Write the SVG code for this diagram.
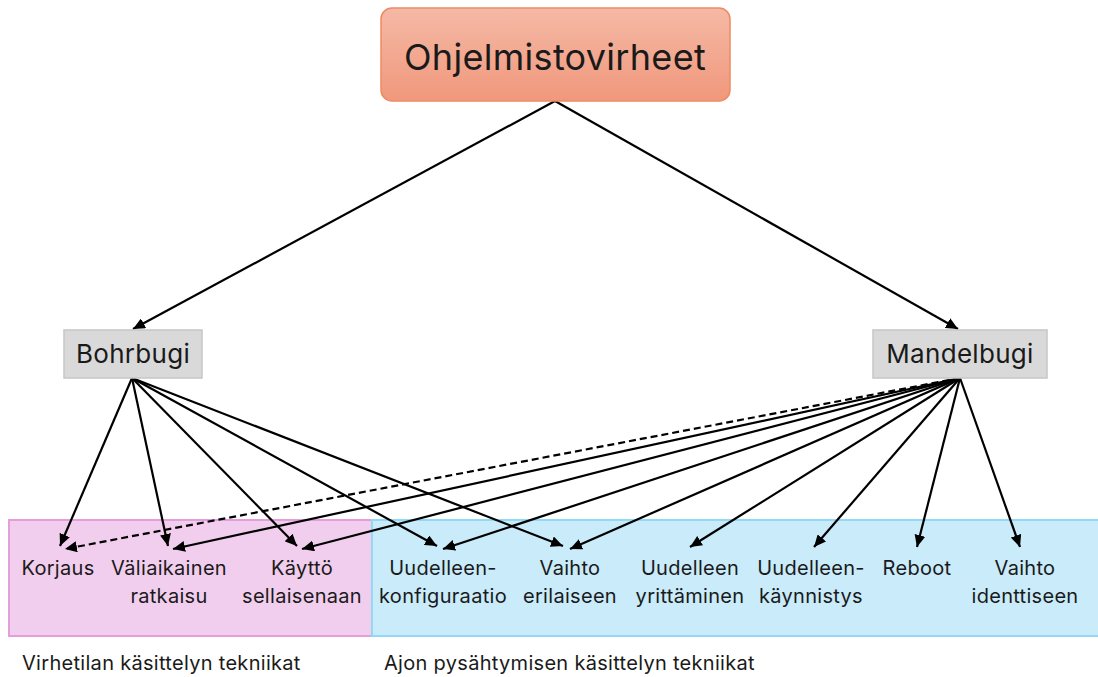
<svg xmlns="http://www.w3.org/2000/svg" width="1098" height="677" viewBox="0 0 1098 677">
<defs>
<linearGradient id="g1" x1="0" y1="0" x2="0" y2="1">
<stop offset="0" stop-color="#F5B9A5"/>
<stop offset="1" stop-color="#F0987C"/>
</linearGradient>
<marker id="ah" markerUnits="userSpaceOnUse" markerWidth="13" markerHeight="11" refX="12" refY="5.5" orient="auto">
<path d="M0,0 L12,5.5 L0,11 Z" fill="#000"/>
</marker>
<style>
text{font-family:Inter,"Liberation Sans",sans-serif;fill:#1a1a1a;text-anchor:middle;letter-spacing:0.3px}
.lbl{font-size:20px}
.cap{font-size:20px;text-anchor:start}
.e{stroke:#000;stroke-width:2.2;fill:none;marker-end:url(#ah)}
.d{stroke-dasharray:7,4}
.mid{fill:#D9D9D9;stroke:#C6C6C6;stroke-width:1.5}
</style>
</defs>
<g id="zone-virhetila"><rect x="9" y="520" width="363" height="116" fill="#F2CEEE" stroke="#E49EDC" stroke-width="2"/></g>
<g id="zone-ajo"><rect x="372" y="520" width="728" height="116" fill="#C9EBFA" stroke="#92D9F6" stroke-width="2"/></g>
<g id="connectors">
<line class="e" x1="555" y1="101" x2="133" y2="329"/>
<line class="e" x1="555" y1="101" x2="958" y2="329"/>
<line class="e" x1="132" y1="378" x2="60" y2="546"/>
<line class="e" x1="132" y1="378" x2="168" y2="546"/>
<line class="e" x1="132" y1="378" x2="297" y2="546"/>
<line class="e" x1="132" y1="378" x2="437" y2="546"/>
<line class="e" x1="132" y1="378" x2="563" y2="546"/>
<line class="e d" x1="960" y1="378" x2="65" y2="549"/>
<line class="e" x1="960" y1="378" x2="173" y2="549"/>
<line class="e" x1="960" y1="378" x2="302" y2="549"/>
<line class="e" x1="960" y1="378" x2="443" y2="549"/>
<line class="e" x1="960" y1="378" x2="570" y2="549"/>
<line class="e" x1="960" y1="378" x2="690" y2="547"/>
<line class="e" x1="960" y1="378" x2="814" y2="547"/>
<line class="e" x1="960" y1="378" x2="917" y2="547"/>
<line class="e" x1="960" y1="378" x2="1020" y2="547"/>
</g>
<g id="ohjelmistovirheet"><rect x="381" y="8" width="349" height="93" rx="11" fill="url(#g1)" stroke="#EE8A63" stroke-width="1.5"/><text x="555" y="70" style="font-size:36px">Ohjelmistovirheet</text></g>
<g id="bohrbugi"><rect class="mid" x="64" y="330" width="138" height="48"/><text x="133" y="363" style="font-size:26px">Bohrbugi</text></g>
<g id="mandelbugi"><rect class="mid" x="873" y="330" width="174" height="48"/><text x="960" y="363" style="font-size:26px">Mandelbugi</text></g>
<g id="korjaus"><text class="lbl" x="58" y="575">Korjaus</text></g>
<g id="valiaikainen"><text class="lbl" x="169" y="575">Väliaikainen</text><text class="lbl" x="169" y="603">ratkaisu</text></g>
<g id="kaytto"><text class="lbl" x="302" y="575">Käyttö</text><text class="lbl" x="302" y="603">sellaisenaan</text></g>
<g id="uudelleenkonfiguraatio"><text class="lbl" x="443" y="575">Uudelleen-</text><text class="lbl" x="443" y="603">konfiguraatio</text></g>
<g id="vaihtoerilaiseen"><text class="lbl" x="570" y="575">Vaihto</text><text class="lbl" x="570" y="603">erilaiseen</text></g>
<g id="uudelleenyrittaminen"><text class="lbl" x="690" y="575">Uudelleen</text><text class="lbl" x="690" y="603">yrittäminen</text></g>
<g id="uudelleenkaynnistys"><text class="lbl" x="811" y="575">Uudelleen-</text><text class="lbl" x="811" y="603">käynnistys</text></g>
<g id="reboot"><text class="lbl" x="917" y="575">Reboot</text></g>
<g id="vaihtoidenttiseen"><text class="lbl" x="1025" y="575">Vaihto</text><text class="lbl" x="1025" y="603">identtiseen</text></g>
<g id="captions"><text class="cap" x="22" y="670">Virhetilan käsittelyn tekniikat</text><text class="cap" x="384" y="670">Ajon pysähtymisen käsittelyn tekniikat</text></g>
</svg>
